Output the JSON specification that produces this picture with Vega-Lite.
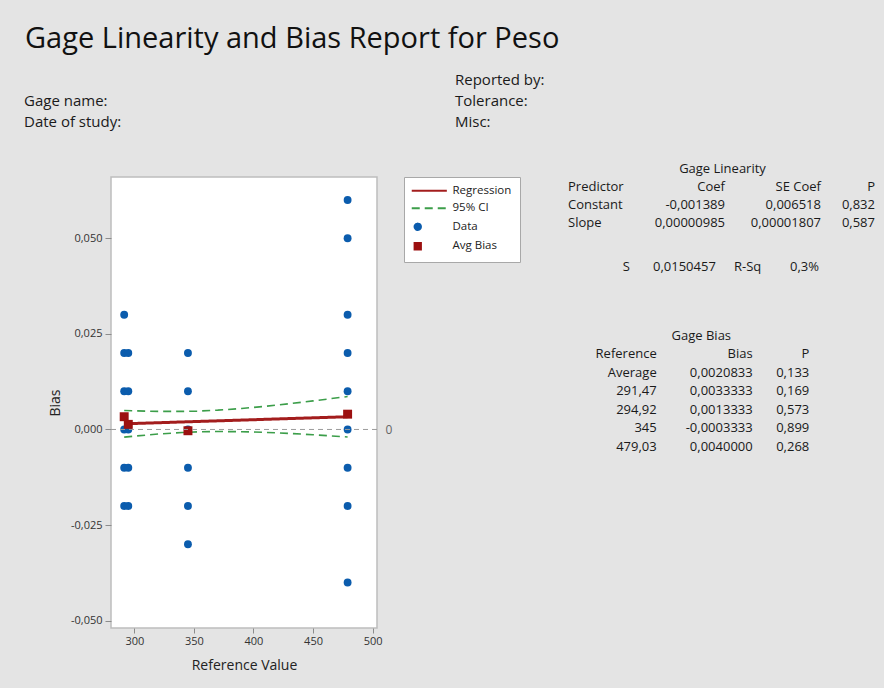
{
  "$schema": "https://vega.github.io/schema/vega-lite/v6.json",
  "width": 266,
  "height": 451,
  "autosize": {"type": "none"},
  "padding": {"left": 111, "top": 177, "right": 507, "bottom": 60},
  "background": "#e4e4e4",
  "datasets": {
    "meas": [
      {"ref": 291.47, "bias": 0.03, "series": "Data"},
      {"ref": 291.47, "bias": 0.02, "series": "Data"},
      {"ref": 291.47, "bias": 0.01, "series": "Data"},
      {"ref": 291.47, "bias": 0.0, "series": "Data"},
      {"ref": 291.47, "bias": -0.01, "series": "Data"},
      {"ref": 291.47, "bias": -0.02, "series": "Data"},
      {"ref": 294.92, "bias": 0.02, "series": "Data"},
      {"ref": 294.92, "bias": 0.01, "series": "Data"},
      {"ref": 294.92, "bias": 0.0, "series": "Data"},
      {"ref": 294.92, "bias": -0.01, "series": "Data"},
      {"ref": 294.92, "bias": -0.02, "series": "Data"},
      {"ref": 345, "bias": 0.02, "series": "Data"},
      {"ref": 345, "bias": 0.01, "series": "Data"},
      {"ref": 345, "bias": 0.0, "series": "Data"},
      {"ref": 345, "bias": -0.01, "series": "Data"},
      {"ref": 345, "bias": -0.02, "series": "Data"},
      {"ref": 345, "bias": -0.03, "series": "Data"},
      {"ref": 479.03, "bias": 0.06, "series": "Data"},
      {"ref": 479.03, "bias": 0.05, "series": "Data"},
      {"ref": 479.03, "bias": 0.03, "series": "Data"},
      {"ref": 479.03, "bias": 0.02, "series": "Data"},
      {"ref": 479.03, "bias": 0.01, "series": "Data"},
      {"ref": 479.03, "bias": 0.0, "series": "Data"},
      {"ref": 479.03, "bias": -0.01, "series": "Data"},
      {"ref": 479.03, "bias": -0.02, "series": "Data"},
      {"ref": 479.03, "bias": -0.04, "series": "Data"}
    ],
    "avg": [
      {"ref": 291.47, "bias": 0.0033333, "series": "Avg Bias"},
      {"ref": 294.92, "bias": 0.0013333, "series": "Avg Bias"},
      {"ref": 345, "bias": -0.0003333, "series": "Avg Bias"},
      {"ref": 479.03, "bias": 0.004, "series": "Avg Bias"}
    ],
    "reg": [
      {"ref": 291.47, "bias": 0.001482, "series": "Regression"},
      {"ref": 479.03, "bias": 0.003329, "series": "Regression"}
    ],
    "ci": [
      {"ref": 291.47, "bias": 0.004972, "band": "upper", "series": "95% CI"},
      {"ref": 300, "bias": 0.004873, "band": "upper", "series": "95% CI"},
      {"ref": 320, "bias": 0.004722, "band": "upper", "series": "95% CI"},
      {"ref": 340, "bias": 0.004717, "band": "upper", "series": "95% CI"},
      {"ref": 352.6, "bias": 0.004804, "band": "upper", "series": "95% CI"},
      {"ref": 370, "bias": 0.005046, "band": "upper", "series": "95% CI"},
      {"ref": 390, "bias": 0.005483, "band": "upper", "series": "95% CI"},
      {"ref": 410, "bias": 0.006057, "band": "upper", "series": "95% CI"},
      {"ref": 430, "bias": 0.006728, "band": "upper", "series": "95% CI"},
      {"ref": 450, "bias": 0.007464, "band": "upper", "series": "95% CI"},
      {"ref": 479.03, "bias": 0.008607, "band": "upper", "series": "95% CI"},
      {"ref": 291.47, "bias": -0.002008, "band": "lower", "series": "95% CI"},
      {"ref": 300, "bias": -0.001741, "band": "lower", "series": "95% CI"},
      {"ref": 320, "bias": -0.001196, "band": "lower", "series": "95% CI"},
      {"ref": 340, "bias": -0.000797, "band": "lower", "series": "95% CI"},
      {"ref": 352.6, "bias": -0.000636, "band": "lower", "series": "95% CI"},
      {"ref": 370, "bias": -0.000535, "band": "lower", "series": "95% CI"},
      {"ref": 390, "bias": -0.000578, "band": "lower", "series": "95% CI"},
      {"ref": 410, "bias": -0.000758, "band": "lower", "series": "95% CI"},
      {"ref": 430, "bias": -0.001035, "band": "lower", "series": "95% CI"},
      {"ref": 450, "bias": -0.001377, "band": "lower", "series": "95% CI"},
      {"ref": 479.03, "bias": -0.001949, "band": "lower", "series": "95% CI"}
    ],
    "txt": [
      {"g": "title", "col": "t", "row": "t", "text": "Gage Linearity and Bias Report for Peso"},
      {"g": "head", "col": "L", "row": "r1", "text": "Gage name:"},
      {"g": "head", "col": "L", "row": "r2", "text": "Date of study:"},
      {"g": "head", "col": "R", "row": "r0", "text": "Reported by:"},
      {"g": "head", "col": "R", "row": "r1", "text": "Tolerance:"},
      {"g": "head", "col": "R", "row": "r2", "text": "Misc:"},
      {"g": "lin", "col": "T", "row": "t", "text": "Gage Linearity"},
      {"g": "lin", "col": "Predictor", "row": "h", "text": "Predictor"},
      {"g": "lin", "col": "Predictor", "row": "c", "text": "Constant"},
      {"g": "lin", "col": "Predictor", "row": "s", "text": "Slope"},
      {"g": "lin", "col": "Coef", "row": "h", "text": "Coef"},
      {"g": "lin", "col": "Coef", "row": "c", "text": "-0,001389"},
      {"g": "lin", "col": "Coef", "row": "s", "text": "0,00000985"},
      {"g": "lin", "col": "SE", "row": "h", "text": "SE Coef"},
      {"g": "lin", "col": "SE", "row": "c", "text": "0,006518"},
      {"g": "lin", "col": "SE", "row": "s", "text": "0,00001807"},
      {"g": "lin", "col": "P", "row": "h", "text": "P"},
      {"g": "lin", "col": "P", "row": "c", "text": "0,832"},
      {"g": "lin", "col": "P", "row": "s", "text": "0,587"},
      {"g": "sr", "col": "S", "row": "x", "text": "S"},
      {"g": "sr", "col": "Sv", "row": "x", "text": "0,0150457"},
      {"g": "sr", "col": "R", "row": "x", "text": "R-Sq"},
      {"g": "sr", "col": "Rv", "row": "x", "text": "0,3%"},
      {"g": "bias", "col": "T", "row": "t", "text": "Gage Bias"},
      {"g": "bias", "col": "Ref", "row": "h", "text": "Reference"},
      {"g": "bias", "col": "Ref", "row": "avg", "text": "Average"},
      {"g": "bias", "col": "Ref", "row": "a", "text": "291,47"},
      {"g": "bias", "col": "Ref", "row": "b", "text": "294,92"},
      {"g": "bias", "col": "Ref", "row": "c", "text": "345"},
      {"g": "bias", "col": "Ref", "row": "d", "text": "479,03"},
      {"g": "bias", "col": "Bias", "row": "h", "text": "Bias"},
      {"g": "bias", "col": "Bias", "row": "avg", "text": "0,0020833"},
      {"g": "bias", "col": "Bias", "row": "a", "text": "0,0033333"},
      {"g": "bias", "col": "Bias", "row": "b", "text": "0,0013333"},
      {"g": "bias", "col": "Bias", "row": "c", "text": "-0,0003333"},
      {"g": "bias", "col": "Bias", "row": "d", "text": "0,0040000"},
      {"g": "bias", "col": "P", "row": "h", "text": "P"},
      {"g": "bias", "col": "P", "row": "avg", "text": "0,133"},
      {"g": "bias", "col": "P", "row": "a", "text": "0,169"},
      {"g": "bias", "col": "P", "row": "b", "text": "0,573"},
      {"g": "bias", "col": "P", "row": "c", "text": "0,899"},
      {"g": "bias", "col": "P", "row": "d", "text": "0,268"}
    ]
  },
  "layer": [
    {
      "layer": [
        {
          "data": {"name": "ci"},
          "mark": {"type": "line", "strokeWidth": 1.6},
          "encoding": {
            "x": {"field": "ref", "type": "quantitative", "scale": {"domain": [280.4, 503.7], "nice": false, "zero": false},
              "axis": {"orient": "bottom", "values": [300, 350, 400, 450, 500], "format": "d", "tickSize": 5, "labelPadding": 2, "title": "Reference Value", "titlePadding": 12}},
            "y": {"field": "bias", "type": "quantitative", "scale": {"domain": [-0.0519, 0.066], "nice": false, "zero": false},
              "axis": {"orient": "left", "values": [-0.05, -0.025, 0, 0.025, 0.05], "format": ".3f", "tickSize": 6, "labelPadding": 3, "title": "Bias", "titlePadding": 8}},
            "detail": {"field": "band"},
            "stroke": {"field": "series", "type": "nominal", "scale": {"domain": ["Regression", "95% CI", "Data", "Avg Bias"], "range": ["#a31d1d", "#3c9e4a", "#0b5cad", "#9c1010"]}, "legend": {"title": null}},
            "strokeDash": {"field": "series", "type": "nominal", "scale": {"domain": ["Regression", "95% CI", "Data", "Avg Bias"], "range": [[1, 0], [8, 5], [1, 0], [1, 0]]}, "legend": {"title": null}}
          }
        },
        {
          "data": {"name": "reg"},
          "mark": {"type": "line", "strokeWidth": 3},
          "encoding": {
            "x": {"field": "ref", "type": "quantitative", "scale": {"domain": [280.4, 503.7], "nice": false, "zero": false},
              "axis": {"orient": "bottom", "values": [300, 350, 400, 450, 500], "format": "d", "tickSize": 5, "labelPadding": 2, "title": "Reference Value", "titlePadding": 12}},
            "y": {"field": "bias", "type": "quantitative", "scale": {"domain": [-0.0519, 0.066], "nice": false, "zero": false}, "axis": null},
            "stroke": {"field": "series", "type": "nominal", "scale": {"domain": ["Regression", "95% CI", "Data", "Avg Bias"], "range": ["#a31d1d", "#3c9e4a", "#0b5cad", "#9c1010"]}, "legend": {"title": null}},
            "strokeDash": {"field": "series", "type": "nominal", "scale": {"domain": ["Regression", "95% CI", "Data", "Avg Bias"], "range": [[1, 0], [8, 5], [1, 0], [1, 0]]}, "legend": {"title": null}}
          }
        },
        {
          "data": {"name": "meas"},
          "mark": {"type": "point", "filled": true, "size": 62, "opacity": 1},
          "encoding": {
            "x": {"field": "ref", "type": "quantitative", "scale": {"domain": [280.4, 503.7], "nice": false, "zero": false},
              "axis": {"orient": "bottom", "values": [300, 350, 400, 450, 500], "format": "d", "tickSize": 5, "labelPadding": 2, "title": "Reference Value", "titlePadding": 12}},
            "y": {"field": "bias", "type": "quantitative", "scale": {"domain": [-0.0519, 0.066], "nice": false, "zero": false}, "axis": null},
            "fill": {"field": "series", "type": "nominal", "scale": {"domain": ["Regression", "95% CI", "Data", "Avg Bias"], "range": ["#a31d1d", "#3c9e4a", "#0b5cad", "#9c1010"]}, "legend": {"title": null}},
            "shape": {"field": "series", "type": "nominal", "scale": {"domain": ["Regression", "95% CI", "Data", "Avg Bias"], "range": ["M-1.9,0H9.2", "M-1.9,0H9.2", "circle", "square"]}, "legend": {"title": null}}
          }
        },
        {
          "data": {"name": "avg"},
          "mark": {"type": "point", "filled": true, "size": 80, "opacity": 1},
          "encoding": {
            "x": {"field": "ref", "type": "quantitative", "scale": {"domain": [280.4, 503.7], "nice": false, "zero": false},
              "axis": {"orient": "bottom", "values": [300, 350, 400, 450, 500], "format": "d", "tickSize": 5, "labelPadding": 2, "title": "Reference Value", "titlePadding": 12}},
            "y": {"field": "bias", "type": "quantitative", "scale": {"domain": [-0.0519, 0.066], "nice": false, "zero": false}, "axis": null},
            "fill": {"field": "series", "type": "nominal", "scale": {"domain": ["Regression", "95% CI", "Data", "Avg Bias"], "range": ["#a31d1d", "#3c9e4a", "#0b5cad", "#9c1010"]}, "legend": {"title": null}},
            "shape": {"field": "series", "type": "nominal", "scale": {"domain": ["Regression", "95% CI", "Data", "Avg Bias"], "range": ["M-1.9,0H9.2", "M-1.9,0H9.2", "circle", "square"]}, "legend": {"title": null}}
          }
        },
        {
          "data": {"values": [{}]},
          "mark": {"type": "rule", "stroke": "#9b9b9b", "strokeDash": [5, 4], "strokeWidth": 1},
          "encoding": {
            "y": {"datum": 0, "type": "quantitative", "scale": {"domain": [-0.0519, 0.066], "nice": false, "zero": false},
              "axis": {"orient": "right", "values": [0], "format": "d", "ticks": false, "domain": false, "labelPadding": 8, "labelFontSize": 12, "labelColor": "#666666", "title": null}}
          }
        }
      ],
      "resolve": {"axis": {"y": "independent"}}
    },
    {
      "data": {"name": "txt"},
      "transform": [{"filter": "datum.g == 'title'"}],
      "mark": {"type": "text", "align": "left", "baseline": "alphabetic", "font": "Open Sans", "fontSize": 29, "color": "#111111"},
      "encoding": {
        "x": {"field": "col", "type": "nominal", "scale": {"type": "point", "range": [-86, -86], "padding": 0}, "axis": null},
        "y": {"field": "row", "type": "nominal", "scale": {"type": "point", "range": [-128.7, -128.7], "padding": 0}, "axis": null},
        "text": {"field": "text"}
      }
    },
    {
      "data": {"name": "txt"},
      "transform": [{"filter": "datum.g == 'head'"}],
      "mark": {"type": "text", "align": "left", "baseline": "alphabetic", "font": "Open Sans", "fontSize": 15, "color": "#1a1a1a"},
      "encoding": {
        "x": {"field": "col", "type": "nominal", "scale": {"type": "point", "domain": ["L", "R"], "range": [-87, 344], "padding": 0}, "axis": null},
        "y": {"field": "row", "type": "nominal", "scale": {"type": "point", "domain": ["r0", "r1", "r2"], "range": [-92, -50], "padding": 0}, "axis": null},
        "text": {"field": "text"}
      }
    },
    {
      "data": {"name": "txt"},
      "layer": [
        {
          "transform": [{"filter": "datum.g == 'lin' && datum.col == 'T'"}],
          "mark": {"type": "text", "align": "center", "baseline": "alphabetic", "font": "Open Sans", "fontSize": 13, "color": "#1a1a1a"},
          "encoding": {
            "x": {"field": "col", "type": "nominal", "scale": {"type": "point", "range": [611.5, 611.5], "padding": 0}, "axis": null},
            "y": {"field": "row", "type": "nominal", "scale": {"type": "point", "domain": ["t", "h", "c", "s"], "range": [-4.3, 49.7], "padding": 0}, "axis": null},
            "text": {"field": "text"}
          }
        },
        {
          "transform": [{"filter": "datum.g == 'lin' && datum.col == 'Predictor'"}],
          "mark": {"type": "text", "align": "left", "baseline": "alphabetic", "font": "Open Sans", "fontSize": 13, "color": "#1a1a1a"},
          "encoding": {
            "x": {"field": "col", "type": "nominal", "scale": {"type": "point", "range": [457, 457], "padding": 0}, "axis": null},
            "y": {"field": "row", "type": "nominal", "scale": {"type": "point", "domain": ["t", "h", "c", "s"], "range": [-4.3, 49.7], "padding": 0}, "axis": null},
            "text": {"field": "text"}
          }
        },
        {
          "transform": [{"filter": "datum.g == 'lin' && datum.col == 'Coef'"}],
          "mark": {"type": "text", "align": "right", "baseline": "alphabetic", "font": "Open Sans", "fontSize": 13, "color": "#1a1a1a"},
          "encoding": {
            "x": {"field": "col", "type": "nominal", "scale": {"type": "point", "range": [614, 614], "padding": 0}, "axis": null},
            "y": {"field": "row", "type": "nominal", "scale": {"type": "point", "domain": ["t", "h", "c", "s"], "range": [-4.3, 49.7], "padding": 0}, "axis": null},
            "text": {"field": "text"}
          }
        },
        {
          "transform": [{"filter": "datum.g == 'lin' && datum.col == 'SE'"}],
          "mark": {"type": "text", "align": "right", "baseline": "alphabetic", "font": "Open Sans", "fontSize": 13, "color": "#1a1a1a"},
          "encoding": {
            "x": {"field": "col", "type": "nominal", "scale": {"type": "point", "range": [710, 710], "padding": 0}, "axis": null},
            "y": {"field": "row", "type": "nominal", "scale": {"type": "point", "domain": ["t", "h", "c", "s"], "range": [-4.3, 49.7], "padding": 0}, "axis": null},
            "text": {"field": "text"}
          }
        },
        {
          "transform": [{"filter": "datum.g == 'lin' && datum.col == 'P'"}],
          "mark": {"type": "text", "align": "right", "baseline": "alphabetic", "font": "Open Sans", "fontSize": 13, "color": "#1a1a1a"},
          "encoding": {
            "x": {"field": "col", "type": "nominal", "scale": {"type": "point", "range": [764, 764], "padding": 0}, "axis": null},
            "y": {"field": "row", "type": "nominal", "scale": {"type": "point", "domain": ["t", "h", "c", "s"], "range": [-4.3, 49.7], "padding": 0}, "axis": null},
            "text": {"field": "text"}
          }
        }
      ],
      "resolve": {"scale": {"x": "independent"}}
    },
    {
      "data": {"name": "txt"},
      "layer": [
        {
          "transform": [{"filter": "datum.g == 'sr' && datum.col == 'S'"}],
          "mark": {"type": "text", "align": "right", "baseline": "alphabetic", "font": "Open Sans", "fontSize": 13, "color": "#1a1a1a"},
          "encoding": {
            "x": {"field": "col", "type": "nominal", "scale": {"type": "point", "range": [519, 519], "padding": 0}, "axis": null},
            "y": {"field": "row", "type": "nominal", "scale": {"type": "point", "range": [94, 94], "padding": 0}, "axis": null},
            "text": {"field": "text"}
          }
        },
        {
          "transform": [{"filter": "datum.g == 'sr' && datum.col == 'Sv'"}],
          "mark": {"type": "text", "align": "left", "baseline": "alphabetic", "font": "Open Sans", "fontSize": 13, "color": "#1a1a1a"},
          "encoding": {
            "x": {"field": "col", "type": "nominal", "scale": {"type": "point", "range": [542, 542], "padding": 0}, "axis": null},
            "y": {"field": "row", "type": "nominal", "scale": {"type": "point", "range": [94, 94], "padding": 0}, "axis": null},
            "text": {"field": "text"}
          }
        },
        {
          "transform": [{"filter": "datum.g == 'sr' && datum.col == 'R'"}],
          "mark": {"type": "text", "align": "left", "baseline": "alphabetic", "font": "Open Sans", "fontSize": 13, "color": "#1a1a1a"},
          "encoding": {
            "x": {"field": "col", "type": "nominal", "scale": {"type": "point", "range": [623, 623], "padding": 0}, "axis": null},
            "y": {"field": "row", "type": "nominal", "scale": {"type": "point", "range": [94, 94], "padding": 0}, "axis": null},
            "text": {"field": "text"}
          }
        },
        {
          "transform": [{"filter": "datum.g == 'sr' && datum.col == 'Rv'"}],
          "mark": {"type": "text", "align": "left", "baseline": "alphabetic", "font": "Open Sans", "fontSize": 13, "color": "#1a1a1a"},
          "encoding": {
            "x": {"field": "col", "type": "nominal", "scale": {"type": "point", "range": [679, 679], "padding": 0}, "axis": null},
            "y": {"field": "row", "type": "nominal", "scale": {"type": "point", "range": [94, 94], "padding": 0}, "axis": null},
            "text": {"field": "text"}
          }
        }
      ],
      "resolve": {"scale": {"x": "independent"}}
    },
    {
      "data": {"name": "txt"},
      "layer": [
        {
          "transform": [{"filter": "datum.g == 'bias' && datum.col == 'T'"}],
          "mark": {"type": "text", "align": "center", "baseline": "alphabetic", "font": "Open Sans", "fontSize": 13, "color": "#1a1a1a"},
          "encoding": {
            "x": {"field": "col", "type": "nominal", "scale": {"type": "point", "range": [590.3, 590.3], "padding": 0}, "axis": null},
            "y": {"field": "row", "type": "nominal", "scale": {"type": "point", "domain": ["t", "h", "avg", "a", "b", "c", "d"], "range": [163, 273.7], "padding": 0}, "axis": null},
            "text": {"field": "text"}
          }
        },
        {
          "transform": [{"filter": "datum.g == 'bias' && datum.col == 'Ref'"}],
          "mark": {"type": "text", "align": "right", "baseline": "alphabetic", "font": "Open Sans", "fontSize": 13, "color": "#1a1a1a"},
          "encoding": {
            "x": {"field": "col", "type": "nominal", "scale": {"type": "point", "range": [545.7, 545.7], "padding": 0}, "axis": null},
            "y": {"field": "row", "type": "nominal", "scale": {"type": "point", "domain": ["t", "h", "avg", "a", "b", "c", "d"], "range": [163, 273.7], "padding": 0}, "axis": null},
            "text": {"field": "text"}
          }
        },
        {
          "transform": [{"filter": "datum.g == 'bias' && datum.col == 'Bias'"}],
          "mark": {"type": "text", "align": "right", "baseline": "alphabetic", "font": "Open Sans", "fontSize": 13, "color": "#1a1a1a"},
          "encoding": {
            "x": {"field": "col", "type": "nominal", "scale": {"type": "point", "range": [641.7, 641.7], "padding": 0}, "axis": null},
            "y": {"field": "row", "type": "nominal", "scale": {"type": "point", "domain": ["t", "h", "avg", "a", "b", "c", "d"], "range": [163, 273.7], "padding": 0}, "axis": null},
            "text": {"field": "text"}
          }
        },
        {
          "transform": [{"filter": "datum.g == 'bias' && datum.col == 'P'"}],
          "mark": {"type": "text", "align": "right", "baseline": "alphabetic", "font": "Open Sans", "fontSize": 13, "color": "#1a1a1a"},
          "encoding": {
            "x": {"field": "col", "type": "nominal", "scale": {"type": "point", "range": [698.3, 698.3], "padding": 0}, "axis": null},
            "y": {"field": "row", "type": "nominal", "scale": {"type": "point", "domain": ["t", "h", "avg", "a", "b", "c", "d"], "range": [163, 273.7], "padding": 0}, "axis": null},
            "text": {"field": "text"}
          }
        }
      ],
      "resolve": {"scale": {"x": "independent"}}
    }
  ],
  "resolve": {"scale": {"x": "independent", "y": "independent"}},
  "config": {
    "locale": {"number": {"decimal": ",", "thousands": ".", "grouping": [3], "currency": ["", ""], "minus": "-"}},
    "view": {"fill": "white", "stroke": "#bdbdbd", "strokeWidth": 1.5},
    "axis": {"grid": false, "domain": false, "labelFont": "Open Sans", "labelFontSize": 11, "labelColor": "#333333", "tickColor": "#8c8c8c", "titleFont": "Open Sans", "titleFontSize": 14, "titleFontWeight": "normal", "titleColor": "#222222"},
    "legend": {"orient": "none", "legendX": 293, "legendY": 0, "fillColor": "white", "strokeColor": "#a8a8a8", "padding": 8, "labelFont": "Open Sans", "labelFontSize": 11.5, "labelColor": "#222222", "symbolSize": 40, "symbolStrokeWidth": 2, "labelOffset": 29, "rowPadding": 4.5}
  }
}
